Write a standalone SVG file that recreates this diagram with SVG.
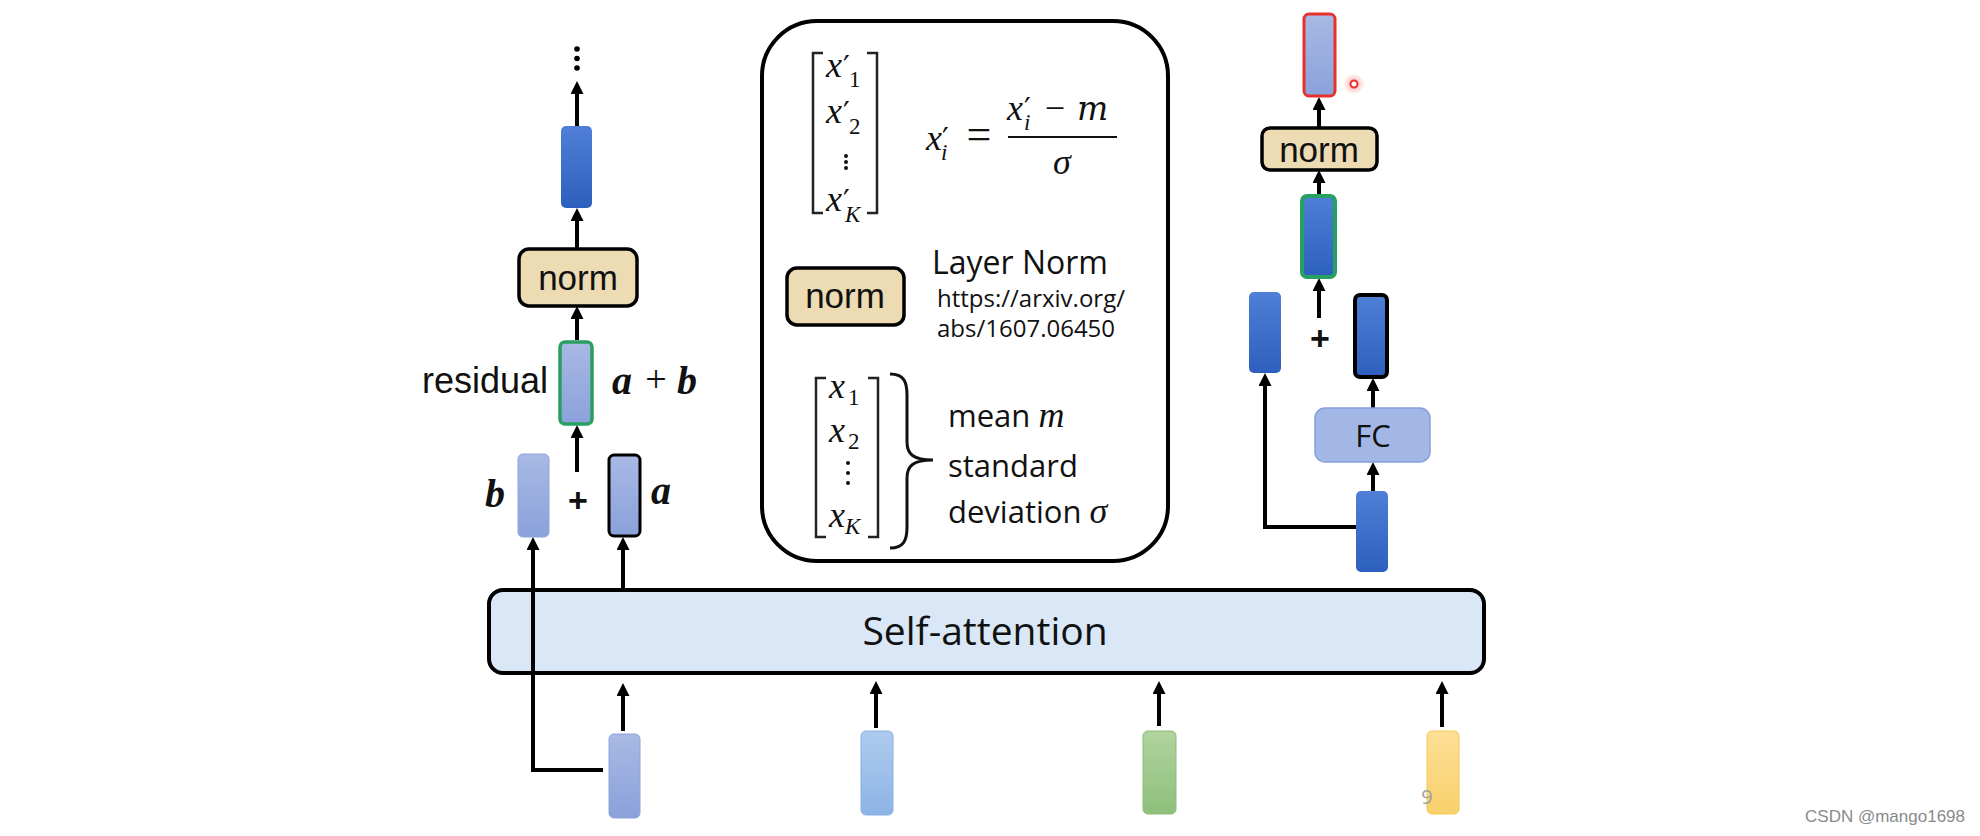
<svg xmlns="http://www.w3.org/2000/svg" width="1980" height="836" viewBox="0 0 1980 836">
<defs>
<linearGradient id="gDark" x1="0" y1="0" x2="0" y2="1"><stop offset="0" stop-color="#4f7fd6"/><stop offset="1" stop-color="#2d5fbe"/></linearGradient>
<linearGradient id="gLight" x1="0" y1="0" x2="0" y2="1"><stop offset="0" stop-color="#a8b9e4"/><stop offset="1" stop-color="#8aa1da"/></linearGradient>
<linearGradient id="gSky" x1="0" y1="0" x2="0" y2="1"><stop offset="0" stop-color="#aecbee"/><stop offset="1" stop-color="#8db4e6"/></linearGradient>
<linearGradient id="gGreen" x1="0" y1="0" x2="0" y2="1"><stop offset="0" stop-color="#b0d49e"/><stop offset="1" stop-color="#8fbf7b"/></linearGradient>
<linearGradient id="gYellow" x1="0" y1="0" x2="0" y2="1"><stop offset="0" stop-color="#fddf96"/><stop offset="1" stop-color="#f9d06c"/></linearGradient>
<radialGradient id="gGlow"><stop offset="0" stop-color="#ff5050" stop-opacity="0.5"/><stop offset="1" stop-color="#ff5050" stop-opacity="0"/></radialGradient>
<marker id="ah" markerUnits="userSpaceOnUse" markerWidth="14" markerHeight="14" refX="6" refY="6.5" orient="auto" viewBox="0 0 14 14">
<path d="M0,0 L13,6.5 L0,13 Z" fill="#000"/>
</marker>
<style>
.ln{stroke:#000;stroke-width:4;fill:none;marker-end:url(#ah)}
.norm{fill:#ecdbb3;stroke:#000;stroke-width:3.5}
.normt{font-family:"Liberation Sans",Arial,sans-serif;font-size:35px;fill:#111;text-anchor:middle}
.sans{font-family:"Open Sans","Noto Sans",sans-serif;fill:#111}
.m{font-family:"Liberation Serif","DejaVu Serif",serif;font-style:italic;font-size:36px;fill:#111}
.sub{font-family:"Liberation Serif","DejaVu Serif",serif;font-size:23px;fill:#111}
.subi{font-family:"Liberation Serif","DejaVu Serif",serif;font-style:italic;font-size:23px;fill:#111}
.pr{font-family:"DejaVu Serif","Liberation Serif",serif;font-size:30px;fill:#111}
.bi{font-family:"Liberation Serif","DejaVu Serif",serif;font-style:italic;font-weight:bold;font-size:40px;fill:#111}
.br{stroke:#222;stroke-width:2.5;fill:none}
.plus{font-family:"Liberation Sans",Arial,sans-serif;font-weight:bold;font-size:34px;fill:#111;text-anchor:middle}
</style>
</defs>
<rect width="1980" height="836" fill="#fff"/>

<g id="connectors">
<line class="ln" x1="577" y1="126" x2="577" y2="88"/>
<line class="ln" x1="577" y1="249" x2="577" y2="215"/>
<line class="ln" x1="577" y1="340" x2="577" y2="313"/>
<line class="ln" x1="577" y1="472" x2="577" y2="432"/>
<path class="ln" d="M603,770 H533 V544"/>
<line class="ln" x1="623" y1="590" x2="623" y2="544"/>
<line class="ln" x1="623" y1="731" x2="623" y2="690"/>
<line class="ln" x1="876" y1="728" x2="876" y2="688"/>
<line class="ln" x1="1159" y1="726" x2="1159" y2="688"/>
<line class="ln" x1="1442" y1="727" x2="1442" y2="688"/>
<line class="ln" x1="845" y1="268" x2="845" y2="232"/>
<line class="ln" x1="845" y1="372" x2="845" y2="332"/>
<line class="ln" x1="1319" y1="128" x2="1319" y2="104"/>
<line class="ln" x1="1319" y1="195" x2="1319" y2="177"/>
<line class="ln" x1="1319" y1="318" x2="1319" y2="285"/>
<path class="ln" d="M1356,527 H1265 V380"/>
<line class="ln" x1="1373" y1="408" x2="1373" y2="385"/>
<line class="ln" x1="1373" y1="491" x2="1373" y2="469"/>
</g>

<g id="self-attention">
<rect x="489" y="590" width="995" height="83" rx="14" fill="#d9e7f6" stroke="#000" stroke-width="4"/>
<text class="sans" x="985" y="645" font-size="39" text-anchor="middle">Self-attention</text>
</g>
<line x1="533" y1="592" x2="533" y2="671" stroke="#000" stroke-width="4"/>

<g id="left-dots">
<circle cx="577" cy="49" r="2.8" fill="#000"/>
<circle cx="577" cy="58.5" r="2.8" fill="#000"/>
<circle cx="577" cy="68" r="2.8" fill="#000"/>
</g>
<g id="left-out"><rect x="561" y="126" width="31" height="82" rx="5" fill="url(#gDark)"/></g>
<g id="left-norm">
<rect class="norm" x="519" y="249" width="118" height="57" rx="10"/>
<text class="normt" x="578" y="290">norm</text>
</g>
<g id="left-residual">
<rect x="560" y="342" width="32" height="82" rx="5" fill="url(#gLight)" stroke="#27a060" stroke-width="3.5"/>
<text x="548" y="393" font-family="Liberation Sans, Arial, sans-serif" font-size="36" fill="#111" text-anchor="end">residual</text>
<text class="bi" x="612" y="394">a</text>
<text x="656" y="392" font-family="Liberation Serif, serif" font-size="38" fill="#111" text-anchor="middle">+</text>
<text class="bi" x="677" y="394">b</text>
</g>
<g id="left-b">
<rect x="518" y="454" width="31" height="83" rx="5" fill="url(#gLight)" stroke="#8fa4da" stroke-width="1"/>
<text class="bi" x="485" y="507">b</text>
</g>
<text class="plus" x="578" y="512">+</text>
<g id="left-a">
<rect x="609" y="455" width="31" height="81" rx="5" fill="url(#gLight)" stroke="#000" stroke-width="3"/>
<text class="bi" x="651" y="504">a</text>
</g>

<g id="in1"><rect x="609" y="734" width="31" height="84" rx="5" fill="url(#gLight)" stroke="#8fa4da" stroke-width="1"/></g>
<g id="in2"><rect x="861" y="731" width="32" height="84" rx="5" fill="url(#gSky)" stroke="#8ab0e2" stroke-width="1"/></g>
<g id="in3"><rect x="1143" y="731" width="33" height="83" rx="5" fill="url(#gGreen)" stroke="#8dbd78" stroke-width="1"/></g>
<g id="in4"><rect x="1427" y="731" width="32" height="83" rx="5" fill="url(#gYellow)" stroke="#f5ca50" stroke-width="1"/></g>
<text x="1427" y="804" font-family="Open Sans, sans-serif" font-size="20" fill="#a0a0a0" text-anchor="middle">9</text>

<g id="layer-norm-box">
<rect x="762" y="21" width="406" height="540" rx="55" fill="#fff" stroke="#000" stroke-width="4"/>
<path class="br" d="M823,53 H813 V213 H823"/>
<path class="br" d="M867,53 H877 V213 H867"/>
<text class="m" x="826" y="77">x</text><text class="pr" x="843" y="77">′</text><text class="sub" x="849" y="87">1</text>
<text class="m" x="826" y="123">x</text><text class="pr" x="843" y="123">′</text><text class="sub" x="849" y="134">2</text>
<circle cx="846" cy="156" r="2" fill="#111"/><circle cx="846" cy="162" r="2" fill="#111"/><circle cx="846" cy="168" r="2" fill="#111"/>
<text class="m" x="826" y="211">x</text><text class="pr" x="843" y="211">′</text><text class="subi" x="845" y="222">K</text>

<text class="m" x="926" y="150">x</text><text class="pr" x="942" y="149">′</text><text class="subi" x="941" y="160">i</text>
<text x="979" y="149" font-family="Liberation Serif, serif" font-size="44" fill="#111" text-anchor="middle">=</text>
<text class="m" x="1007" y="120">x</text><text class="pr" x="1024" y="119">′</text><text class="subi" x="1024" y="130">i</text>
<text x="1055" y="120" font-family="Liberation Serif, serif" font-size="36" fill="#111" text-anchor="middle">−</text>
<text x="1077" y="120" font-family="DejaVu Serif, serif" font-style="italic" font-size="33" fill="#111">m</text>
<line x1="1008" y1="137" x2="1117" y2="137" stroke="#111" stroke-width="2"/>
<text class="m" x="1062" y="174" text-anchor="middle">σ</text>

<g id="center-norm">
<rect class="norm" x="787" y="268" width="117" height="57" rx="10"/>
<text class="normt" x="845" y="308" font-size="34">norm</text>
</g>
<text class="sans" x="932" y="274" font-size="32">Layer Norm</text>
<text class="sans" x="937" y="307" font-size="24">https://arxiv.org/</text>
<text class="sans" x="937" y="337" font-size="24">abs/1607.06450</text>

<path class="br" d="M826,378 H816 V537 H826"/>
<path class="br" d="M868,378 H878 V537 H868"/>
<text class="m" x="829" y="398">x</text><text class="sub" x="848" y="405">1</text>
<text class="m" x="829" y="442">x</text><text class="sub" x="848" y="449">2</text>
<circle cx="848" cy="463" r="2" fill="#111"/><circle cx="848" cy="473" r="2" fill="#111"/><circle cx="848" cy="483" r="2" fill="#111"/>
<text class="m" x="829" y="527">x</text><text class="subi" x="845" y="534">K</text>
<path d="M890,374 C904,374 907,382 907,395 L907,442 C907,454 913,460 933,460 M933,460 C913,460 907,466 907,478 L907,527 C907,540 904,548 890,548" fill="none" stroke="#111" stroke-width="3"/>
<text class="sans" x="948" y="427" font-size="31">mean <tspan font-family="Liberation Serif, serif" font-style="italic" font-size="36">m</tspan></text>
<text class="sans" x="948" y="477" font-size="31">standard</text>
<text class="sans" x="948" y="523" font-size="31">deviation <tspan font-family="Liberation Serif, serif" font-style="italic" font-size="36">σ</tspan></text>
</g>

<g id="right-out"><rect x="1304" y="14" width="31" height="82" rx="5" fill="url(#gLight)" stroke="#e8302c" stroke-width="3"/></g>
<g id="pointer">
<circle cx="1354" cy="84" r="11" fill="url(#gGlow)"/>
<circle cx="1354" cy="84" r="3.5" fill="#fff" stroke="#e83030" stroke-width="2"/>
</g>
<g id="right-norm">
<rect class="norm" x="1262" y="128" width="115" height="42" rx="8"/>
<text class="normt" x="1319" y="162">norm</text>
</g>
<g id="right-residual"><rect x="1302" y="196" width="33" height="81" rx="5" fill="url(#gDark)" stroke="#27a060" stroke-width="4"/></g>
<g id="right-skip"><rect x="1249" y="292" width="32" height="81" rx="5" fill="url(#gDark)"/></g>
<text class="plus" x="1320" y="350">+</text>
<g id="right-fcout"><rect x="1355" y="295" width="32" height="82" rx="5" fill="url(#gDark)" stroke="#000" stroke-width="4"/></g>
<g id="fc">
<rect x="1315" y="408" width="115" height="54" rx="10" fill="#a3b7e6" stroke="#86a0dc" stroke-width="1.5"/>
<text class="sans" x="1373" y="447" font-size="31" text-anchor="middle">FC</text>
</g>
<g id="right-in"><rect x="1356" y="491" width="32" height="81" rx="5" fill="url(#gDark)"/></g>

<text x="1965" y="822" font-family="Liberation Sans, Arial, sans-serif" font-size="17" fill="#8a8a8a" text-anchor="end">CSDN @mango1698</text>
</svg>
